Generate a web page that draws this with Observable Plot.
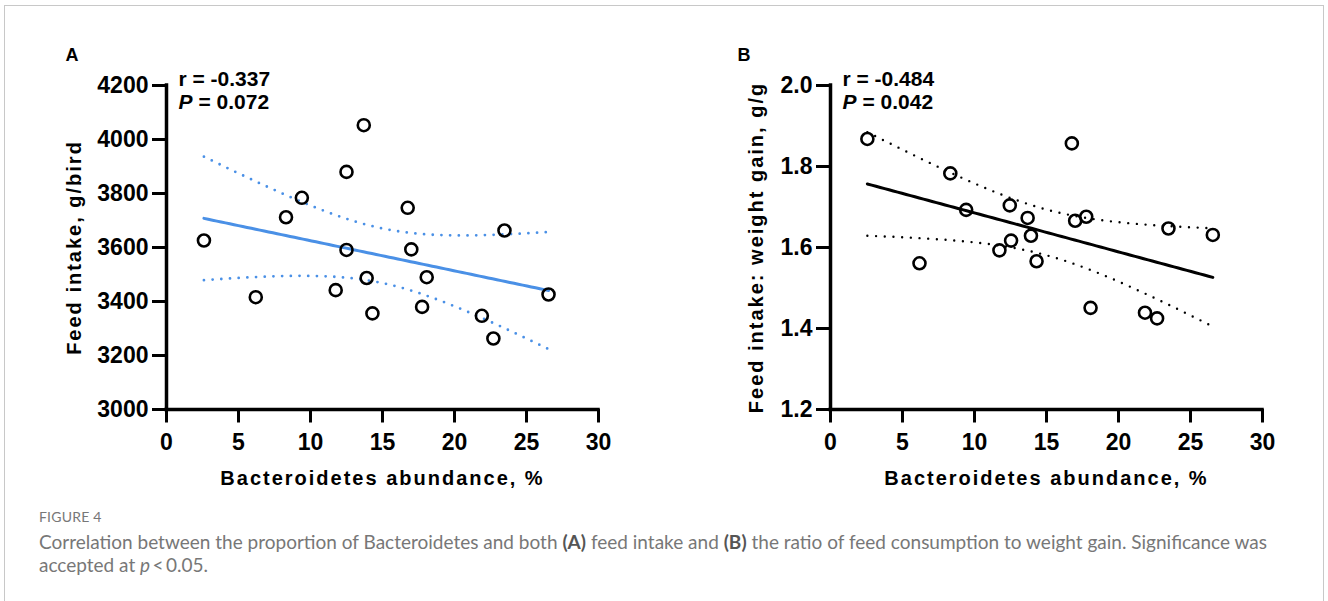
<!DOCTYPE html>
<html>
<head>
<meta charset="utf-8">
<script src="https://cdn.jsdelivr.net/npm/d3@7"></script>
<script src="https://cdn.jsdelivr.net/npm/@observablehq/plot@0.6"></script>
<style>
  html, body { margin: 0; padding: 0; background: #fff; }
  #page { position: relative; width: 1328px; height: 601px; overflow: hidden; background: #fff; }
  #frame { position: absolute; left: 4px; top: 5px; width: 1320px; height: 640px; box-sizing: border-box;
           border: 1.5px solid #c8c8c8; }
  .panel { position: absolute; top: 0; }
  #panelA { left: 0px; }
  #panelB { left: 664px; }
  .cap { position: absolute; left: 39px; font-family: Lato, "Open Sans", sans-serif; color: #777; white-space: nowrap; }
  #figno { top: 509px; font-size: 14px; line-height: 16.8px; letter-spacing: 0.2px; }
  #line1 { top: 531px; font-size: 19px; line-height: 22.8px; }
  #line2 { top: 554px; font-size: 19px; line-height: 22.8px; }
  .cap b { color: #555; }
</style>
</head>
<body>
<div id="page">
  <div id="frame"></div>
  <div id="panelA" class="panel"></div>
  <div id="panelB" class="panel"></div>
  <div id="figno" class="cap">FIGURE 4</div>
  <div id="line1" class="cap">Correlation between the proportion of Bacteroidetes and both <b>(A)</b> feed intake and <b>(B)</b> the ratio of feed consumption to weight gain. Significance was</div>
  <div id="line2" class="cap">accepted at <i>p</i>&thinsp;&lt;&thinsp;0.05.</div>
</div>
<script>
// ---------- data ----------
const abundanceA = [2.6, 6.2, 8.3, 9.4, 11.75, 12.5, 12.5, 13.7, 13.9, 14.3, 16.75, 17.0, 17.75, 18.07, 21.9, 22.7, 23.47, 26.53];
const feedIntake = [3626, 3416, 3712, 3784, 3442, 3880, 3591, 4053, 3487, 3356, 3747, 3593, 3380, 3490, 3347, 3263, 3663, 3426];

const abundanceB = [2.56, 6.18, 8.32, 9.42, 11.73, 12.45, 12.54, 13.69, 13.92, 14.31, 16.76, 16.99, 17.76, 18.06, 21.84, 22.68, 23.47, 26.55];
const feedGainRatio = [1.868, 1.561, 1.783, 1.693, 1.593, 1.704, 1.617, 1.673, 1.629, 1.566, 1.857, 1.666, 1.676, 1.451, 1.439, 1.425, 1.647, 1.631];

const xTicks = [0, 5, 10, 15, 20, 25, 30];
const yTicksA = [3000, 3200, 3400, 3600, 3800, 4000, 4200];
const yTicksB = [1.2, 1.4, 1.6, 1.8, 2.0];

const panelLetters = ["A", "B"];
const rLabels = ["r = -0.337", "r = -0.484"];
const pValues = ["= 0.072", "= 0.042"];
const xTitle = "Bacteroidetes abundance, %";
const yTitles = ["Feed intake, g/bird", "Feed intake: weight gain, g/g"];

const T_CRIT = 2.1199; // two-sided 95% t quantile, df = 16

// ---------- linear regression with 95% confidence band ----------
function fit(xs, ys) {
  const n = xs.length, mx = d3.mean(xs), my = d3.mean(ys);
  let sxx = 0, sxy = 0;
  for (let i = 0; i < n; i++) { sxx += (xs[i] - mx) ** 2; sxy += (xs[i] - mx) * (ys[i] - my); }
  const b = sxy / sxx, a = my - b * mx;
  let sse = 0;
  for (let i = 0; i < n; i++) sse += (ys[i] - a - b * xs[i]) ** 2;
  const s = Math.sqrt(sse / (n - 2));
  const [x0, x1] = d3.extent(xs);
  return d3.range(0, 81).map(k => {
    const x = x0 + (x1 - x0) * k / 80;
    const yh = a + b * x;
    const h = T_CRIT * s * Math.sqrt(1 / n + (x - mx) ** 2 / sxx);
    return {x, fit: yh, lo: yh - h, hi: yh + h};
  });
}

const FONT = '"Liberation Sans", Arial, Helvetica, sans-serif';

function panel({xs, ys, yDomain, yTicks, yFormat, color, dotW, letter, letterDx, rLabel, pLabel, yTitle, yTitleDx}) {
  const pts = xs.map((x, i) => ({x, y: ys[i]}));
  const curve = fit(xs, ys);
  const svg = Plot.plot({
    width: 640, height: 470,
    marginLeft: 166, marginRight: 42, marginTop: 85, marginBottom: 61,
    style: {fontFamily: FONT, fontWeight: "bold", fontSize: "23px", color: "#000", background: "transparent", overflow: "visible"},
    x: {domain: [0, 30]},
    y: {domain: yDomain},
    marks: [
      Plot.axisX({ticks: xTicks, tickSize: 13.5, tickPadding: 11, strokeWidth: 3, label: null, fontSize: 23}),
      Plot.axisY({ticks: yTicks, tickSize: 14, tickPadding: 4, strokeWidth: 3, label: null, fontSize: 23, tickFormat: yFormat}),
      Plot.ruleX([0], {y1: yDomain[0], y2: yDomain[1], strokeWidth: 3.5, strokeLinecap: "square"}),
      Plot.ruleY([yDomain[0]], {x1: 0, x2: 30, strokeWidth: 3.5, strokeLinecap: "square"}),
      Plot.line(curve, {x: "x", y: "hi", stroke: color, strokeWidth: dotW, strokeDasharray: "0 8.7", strokeLinecap: "round"}),
      Plot.line(curve, {x: "x", y: "lo", stroke: color, strokeWidth: dotW, strokeDasharray: "0 8.7", strokeLinecap: "round"}),
      Plot.line(curve, {x: "x", y: "fit", stroke: color, strokeWidth: 3}),
      Plot.dot(pts, {x: "x", y: "y", r: 6, stroke: "#000", strokeWidth: 2.6, fill: "none"}),
      Plot.text([rLabel], {frameAnchor: "top-left", textAnchor: "start", lineAnchor: "bottom", dx: 12, dy: 0, fontSize: 21}),
      Plot.text(["P"], {frameAnchor: "top-left", textAnchor: "start", lineAnchor: "bottom", dx: 12, dy: 23, fontSize: 21, fontStyle: "italic"}),
      Plot.text([pLabel], {frameAnchor: "top-left", textAnchor: "start", lineAnchor: "bottom", dx: 32, dy: 23, fontSize: 21}),
      Plot.text([letter], {frameAnchor: "top-left", textAnchor: "start", lineAnchor: "bottom", dx: letterDx, dy: -25, fontSize: 18}),
      Plot.text([xTitle], {frameAnchor: "bottom", textAnchor: "middle", lineAnchor: "bottom", dy: 75, fontSize: 20}),
      Plot.text([yTitle], {frameAnchor: "left", textAnchor: "middle", lineAnchor: "bottom", rotate: -90, dx: yTitleDx, fontSize: 20})
    ]
  });
  // axis titles are drawn with a little letter spacing, as in the original figure
  d3.select(svg).selectAll("text")
    .filter(function () { return this.textContent === xTitle || this.textContent === yTitle; })
    .style("letter-spacing", "2px");
  return svg;
}

document.getElementById("panelA").append(panel({
  xs: abundanceA, ys: feedIntake, yDomain: [3000, 4200], yTicks: yTicksA, yFormat: d3.format("d"),
  color: "#4a90e6", dotW: 2.8, letter: panelLetters[0], letterDx: -101,
  rLabel: rLabels[0], pLabel: pValues[0], yTitle: yTitles[0], yTitleDx: -86
}));
document.getElementById("panelB").append(panel({
  xs: abundanceB, ys: feedGainRatio, yDomain: [1.2, 2.0], yTicks: yTicksB, yFormat: d3.format(".1f"),
  color: "#000", dotW: 2.4, letter: panelLetters[1], letterDx: -93,
  rLabel: rLabels[1], pLabel: pValues[1], yTitle: yTitles[1], yTitleDx: -68
}));
</script>
</body>
</html>
